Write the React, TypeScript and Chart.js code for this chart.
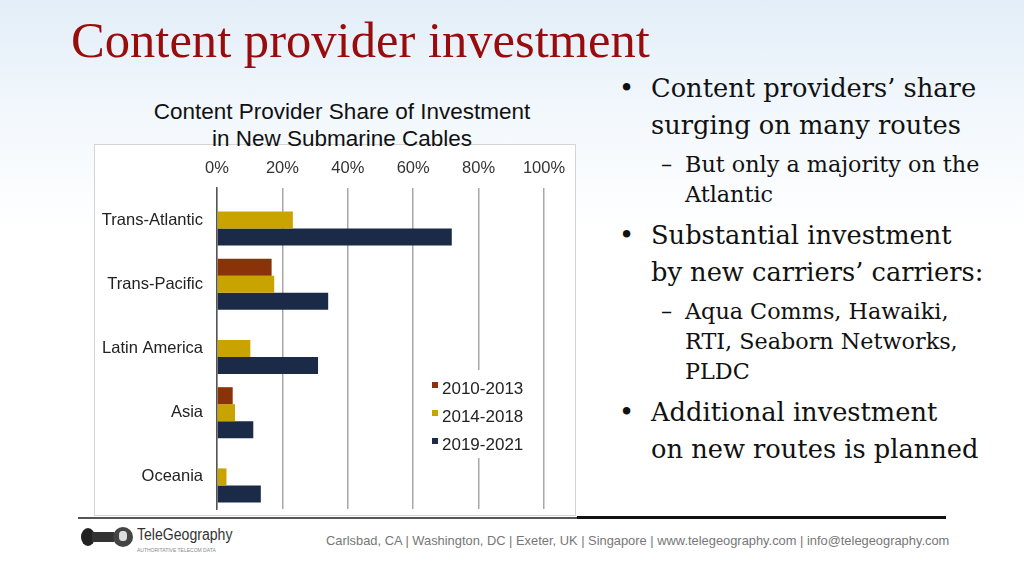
import React, { useEffect, useRef } from "react";
import { Chart, registerables } from "chart.js";

Chart.register(...registerables);

const categories = ["Trans-Atlantic", "Trans-Pacific", "Latin America", "Asia", "Oceania"];
const seriesNames = ["2010-2013", "2014-2018", "2019-2021"];
const values2010_2013 = [null, 16.7, null, 4.8, null];
const values2014_2018 = [23.2, 17.5, 10.2, 5.5, 2.9];
const values2019_2021 = [71.8, 34.0, 30.9, 11.1, 13.4];
const xMin = 0;
const xMax = 100;
const xStep = 20;
const seriesColors = ["#8a3208", "#c9a300", "#1b2b47"];

const bulletLines = [
  { level: 1, text: "Content providers\u2019 share", top: 70, bullet: true },
  { level: 1, text: "surging on many routes", top: 107 },
  { level: 2, text: "But only a majority on the", top: 149, bullet: true },
  { level: 2, text: "Atlantic", top: 179 },
  { level: 1, text: "Substantial investment", top: 217, bullet: true },
  { level: 1, text: "by new carriers\u2019 carriers:", top: 254 },
  { level: 2, text: "Aqua Comms, Hawaiki,", top: 296, bullet: true },
  { level: 2, text: "RTI, Seaborn Networks,", top: 326 },
  { level: 2, text: "PLDC", top: 356 },
  { level: 1, text: "Additional investment", top: 394, bullet: true },
  { level: 1, text: "on new routes is planned", top: 431 },
];

const legendPlugin = {
  id: "insideLegend",
  afterDraw(chart: any) {
    const ctx = chart.ctx;
    ctx.save();
    ctx.fillStyle = "#ffffff";
    ctx.fillRect(326, 224, 114, 88);
    ctx.font = "17px Arial, 'Liberation Sans', sans-serif";
    ctx.textBaseline = "middle";
    ctx.textAlign = "left";
    chart.data.datasets.forEach((ds: any, i: number) => {
      const y = 243 + i * 28;
      ctx.fillStyle = ds.backgroundColor;
      ctx.fillRect(337, y - 7, 6, 6);
      ctx.fillStyle = "#222";
      ctx.fillText(ds.label, 347, y);
    });
    ctx.restore();
  },
};

function BarChart() {
  const ref = useRef<HTMLCanvasElement | null>(null);
  useEffect(() => {
    if (!ref.current) return;
    const series = [values2010_2013, values2014_2018, values2019_2021];
    const chart = new Chart(ref.current, {
      type: "bar",
      data: {
        labels: categories,
        datasets: series.map((d, i) => ({
          label: seriesNames[i],
          data: d as any,
          backgroundColor: seriesColors[i],
          borderWidth: 0,
          barPercentage: 1,
          categoryPercentage: 0.795,
        })),
      },
      options: {
        indexAxis: "y",
        responsive: false,
        animation: false,
        devicePixelRatio: 1,
        layout: { padding: { left: 0, right: 32, top: 0, bottom: 7 } },
        plugins: { legend: { display: false }, tooltip: { enabled: false }, title: { display: false } },
        scales: {
          x: {
            position: "top",
            min: xMin,
            max: xMax,
            ticks: {
              stepSize: xStep,
              callback: (v: any) => v + "%",
              font: { size: 16.5, family: "Arial, 'Liberation Sans', sans-serif" },
              color: "#333",
              padding: 10,
            },
            grid: { color: "#a8a8a8", lineWidth: 1.5, drawTicks: false },
            border: { display: false },
            afterFit: (s: any) => {
              s.height = 42;
              s.paddingLeft = 0;
              s.paddingRight = 0;
            },
          },
          y: {
            ticks: {
              font: { size: 16.5, family: "Arial, 'Liberation Sans', sans-serif" },
              color: "#222",
              padding: 14,
            },
            grid: { display: false, drawTicks: false },
            border: { display: true, color: "#555", width: 1.5 },
            afterFit: (s: any) => {
              s.width = 122;
              s.paddingTop = 0;
              s.paddingBottom = 0;
            },
          },
        },
      },
      plugins: [legendPlugin],
    });
    return () => chart.destroy();
  }, []);
  return (
    <canvas
      ref={ref}
      width={481}
      height={370}
      style={{ position: "absolute", left: 95, top: 146, width: 481, height: 370 }}
    />
  );
}

export default function App() {
  const serif = "'DejaVu Serif', Georgia, serif";
  return (
    <div
      style={{
        position: "fixed",
        left: 0,
        top: 0,
        width: 1024,
        height: 576,
        overflow: "hidden",
        background: "linear-gradient(#e3eef8 0%, #f1f7fc 18%, #ffffff 40%)",
        fontFamily: "Arial, 'Liberation Sans', sans-serif",
      }}
    >
      <div
        style={{
          position: "absolute",
          left: 71,
          top: 10,
          fontFamily: "'Liberation Serif', 'Times New Roman', serif",
          fontSize: 50.6,
          lineHeight: "60px",
          color: "#980c0c",
          whiteSpace: "nowrap",
        }}
      >
        Content provider investment
      </div>

      {/* chart box */}
      <div
        style={{
          position: "absolute",
          left: 94,
          top: 144,
          width: 482,
          height: 372,
          background: "#fff",
          border: "1px solid #d4d4d4",
          boxSizing: "border-box",
        }}
      />
      <div
        style={{
          position: "absolute",
          left: 92,
          top: 98,
          width: 500,
          textAlign: "center",
          fontSize: 22.5,
          lineHeight: "27px",
          color: "#111",
        }}
      >
        Content Provider Share of Investment
        <br />
        in New Submarine Cables
      </div>
      <BarChart />

      {/* bullets */}
      {bulletLines.map((l, i) => {
        const isL1 = l.level === 1;
        const fs = isL1 ? 25.7 : 22.3;
        const lh = isL1 ? "37px" : "30px";
        return (
          <div key={i}>
            {l.bullet && (
              <div
                style={{
                  position: "absolute",
                  left: isL1 ? 619 : 661,
                  top: l.top,
                  fontFamily: serif,
                  fontSize: fs,
                  lineHeight: lh,
                  color: "#111",
                }}
              >
                {isL1 ? "\u2022" : "\u2013"}
              </div>
            )}
            <div
              style={{
                position: "absolute",
                left: isL1 ? 651 : 685,
                top: l.top,
                fontFamily: serif,
                fontSize: fs,
                lineHeight: lh,
                color: "#111",
                whiteSpace: "nowrap",
              }}
            >
              {l.text}
            </div>
          </div>
        );
      })}

      {/* footer line */}
      <div style={{ position: "absolute", left: 78, top: 517, width: 499, height: 2, background: "#555" }} />
      <div style={{ position: "absolute", left: 577, top: 516, width: 369, height: 3, background: "#111" }} />

      {/* logo */}
      <div style={{ position: "absolute", left: 81, top: 528, width: 14, height: 18, borderRadius: "50%", background: "#222" }} />
      <div style={{ position: "absolute", left: 92, top: 532, width: 22, height: 10, background: "#333" }} />
      <div style={{ position: "absolute", left: 113, top: 527, width: 20, height: 20, borderRadius: "50%", background: "#444" }} />
      <div style={{ position: "absolute", left: 119, top: 531, width: 8, height: 10, borderRadius: "40%", background: "#ddd" }} />
      <div
        style={{
          position: "absolute",
          left: 137,
          top: 526,
          fontSize: 16,
          lineHeight: "18px",
          color: "#333",
          whiteSpace: "nowrap",
          transform: "scaleX(0.88)",
          transformOrigin: "left center",
        }}
      >
        TeleGeography
      </div>
      <div
        style={{
          position: "absolute",
          left: 137,
          top: 547,
          fontSize: 5,
          lineHeight: "6px",
          color: "#888",
          whiteSpace: "nowrap",
        }}
      >
        AUTHORITATIVE TELECOM DATA
      </div>
      <div
        style={{
          position: "absolute",
          left: 326,
          top: 533,
          fontSize: 13,
          lineHeight: "16px",
          color: "#777",
          whiteSpace: "nowrap",
          transform: "scaleX(0.99)",
          transformOrigin: "left center",
        }}
      >
        Carlsbad, CA | Washington, DC | Exeter, UK | Singapore | www.telegeography.com | info@telegeography.com
      </div>
    </div>
  );
}
